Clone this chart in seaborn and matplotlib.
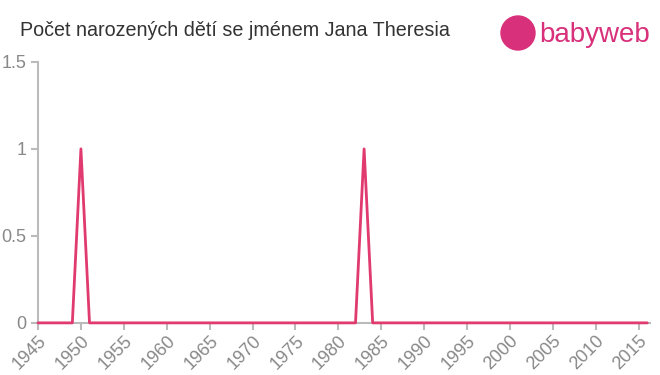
import matplotlib
matplotlib.use("Agg")
import matplotlib.pyplot as plt
import seaborn as sns
import pandas as pd
from matplotlib.patches import Ellipse

years = list(range(1945, 2017))
counts = [1 if y in (1950, 1983) else 0 for y in years]
xticks = list(range(1945, 2016, 5))
yticks = [0, 0.5, 1, 1.5]
ytick_labels = ["0", "0.5", "1", "1.5"]
title = "Počet narozených dětí se jménem Jana Theresia"

df = pd.DataFrame({"year": years, "count": counts})

sns.set_style("white")
plt.rcParams['font.family'] = ['Liberation Sans', 'DejaVu Sans']

fig = plt.figure(figsize=(6.6, 3.75), dpi=100)
ax = fig.add_axes([0.0576, 0.139, 0.927, 0.696])
sns.lineplot(data=df, x="year", y="count", ax=ax, color="#e03a6e", linewidth=2)
for ln in ax.lines:
    ln.set_zorder(5)
    ln.set_clip_on(False)

ax.set_xlim(1945, 2016.3)
ax.set_ylim(0, 1.5)
ax.set_xticks(xticks)
ax.set_xticklabels([str(x) for x in xticks], rotation=45, ha="right", rotation_mode="anchor")
ax.set_yticks(yticks)
ax.set_yticklabels(ytick_labels)
ax.set_xlabel("")
ax.set_ylabel("")
for s in ["top", "right"]:
    ax.spines[s].set_visible(False)
for s in ["left", "bottom"]:
    ax.spines[s].set_color("#bbbbbb")
    ax.spines[s].set_linewidth(1.5)
    ax.spines[s].set_zorder(2)
ax.tick_params(axis="both", colors="#bbbbbb", labelcolor="#888888", labelsize=13,
               length=5, width=1.5, direction="out", bottom=True, left=True)
ax.tick_params(axis="x", pad=2)

fig.text(0.03, 0.918, title, fontsize=14.2, color="#333333", va="center", ha="left")

# logo
logo_color = "#d8307a"
r_px = 17
circ = Ellipse((518 / 660, 1 - 33 / 375), 2 * r_px / 660, 2 * r_px / 375,
               transform=fig.transFigure, color=logo_color)
fig.add_artist(circ)
fig.text(539 / 660, 1 - 35 / 375, "babyweb", fontsize=20, color=logo_color,
         va="center", ha="left")

fig.savefig("out.png", dpi=100)
